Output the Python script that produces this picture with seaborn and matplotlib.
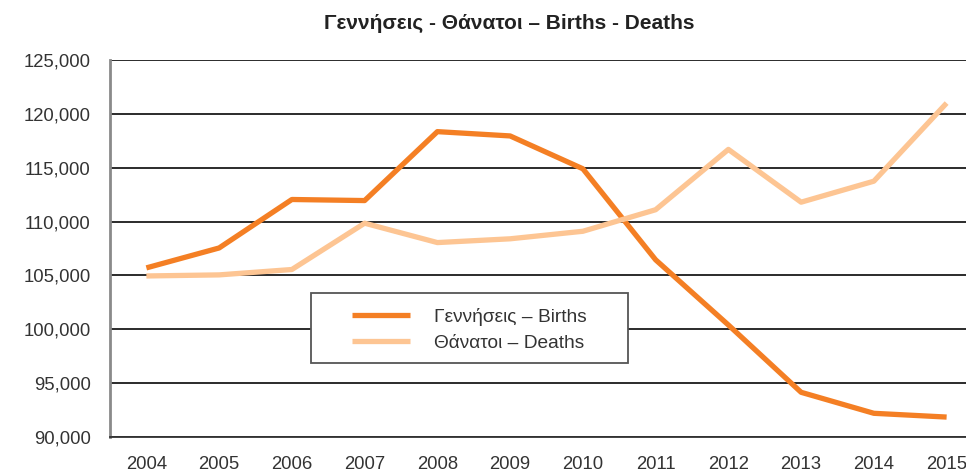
import matplotlib
matplotlib.use('Agg')
import matplotlib.pyplot as plt
from matplotlib.patches import Rectangle
from matplotlib.ticker import FuncFormatter
import pandas as pd
import seaborn as sns

# Data
years = list(range(2004, 2016))
births = [105700, 107550, 112050, 111950, 118350, 117950, 114900, 106450, 100400, 94150, 92200, 91850]
deaths = [104950, 105050, 105550, 109850, 108050, 108400, 109100, 111100, 116700, 111800, 113750, 121000]
series_names = ['Γεννήσεις – Births', 'Θάνατοι – Deaths']
series_colors = ['#F47F24', '#FDC593']
title = 'Γεννήσεις - Θάνατοι – Births - Deaths'

df = pd.DataFrame({
    'year': years * 2,
    'value': births + deaths,
    'series': [series_names[0]] * len(years) + [series_names[1]] * len(years),
})

sns.set_style('white')
plt.rcParams['font.family'] = ['Liberation Sans', 'DejaVu Sans']
plt.rcParams['lines.solid_capstyle'] = 'butt'

W, H = 966, 473
fig = plt.figure(figsize=(W / 100, H / 100), dpi=100)
# axes runs a bit past the right edge, like the original
ax = fig.add_axes([110 / W, 1 - 437 / H, 873 / W, 377 / H])

sns.lineplot(data=df, x='year', y='value', hue='series', palette=series_colors,
             linewidth=3.8, ax=ax)
handles, labels = ax.get_legend_handles_labels()
ax.get_legend().remove()

ax.set_xlim(2003.5, 2015.5)
ax.set_ylim(90000, 125000)
ax.set_yticks(range(90000, 125001, 5000))
ax.yaxis.set_major_formatter(FuncFormatter(lambda v, p: f'{v:,.0f}'))
ax.set_xticks(years)
ax.set_xticks([y + 0.5 for y in [2003] + years], minor=True)
ax.set_xlabel('')
ax.set_ylabel('')

ax.grid(axis='y', color='#1a1a1a', linewidth=1.3)
ax.grid(axis='x', visible=False)
ax.set_axisbelow(True)

for s in ['top', 'right']:
    ax.spines[s].set_visible(False)
ax.spines['bottom'].set_color('#333333')
ax.spines['bottom'].set_linewidth(1.3)
ax.spines['left'].set_color('#8a8a8a')
ax.spines['left'].set_linewidth(2)

ax.tick_params(axis='x', which='major', length=0, pad=14, labelsize=13.3, labelcolor='#333333')
ax.tick_params(axis='x', which='minor', length=9, width=1.3, color='#555555', direction='out')
ax.tick_params(axis='y', length=7, width=1.3, color='#1a1a1a', pad=7, labelsize=13.3, labelcolor='#333333')

fig.text(509 / W, 1 - 23 / H, title, ha='center', va='center', fontsize=15,
         fontweight='bold', color='#222222')

# legend box
fig.patches.append(Rectangle((311 / W, 1 - 363 / H), 317 / W, 70 / H,
                             transform=fig.transFigure, facecolor='white',
                             edgecolor='#555555', linewidth=1.3, zorder=2))
for h in handles:
    h.set_linewidth(3.8)
fig.legend(handles, labels, loc='upper left', bbox_to_anchor=(352 / W, 1 - 308 / H),
           frameon=False, fontsize=13.8, handlelength=3.0, handletextpad=1.3,
           labelspacing=0.45, borderpad=0, borderaxespad=0, labelcolor='#333333')

fig.savefig('out.png', dpi=100)
